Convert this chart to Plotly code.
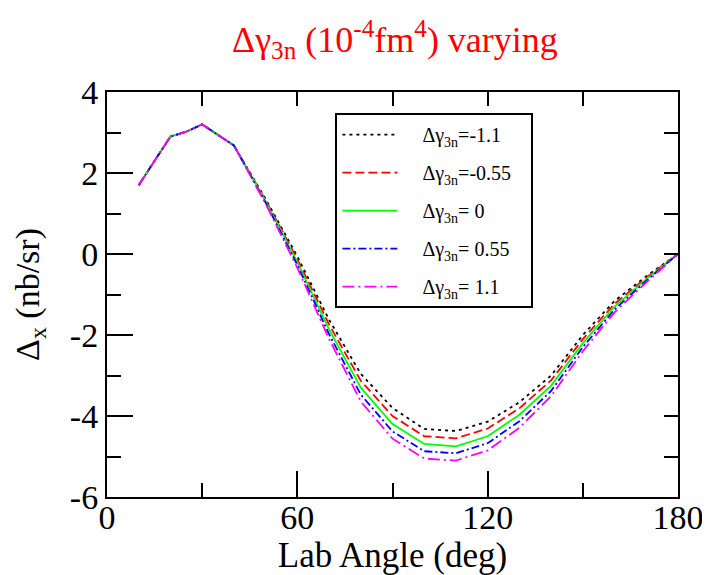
import plotly.graph_objects as go

angle = [10, 20, 25, 30, 40, 50, 60, 70, 80, 90, 100, 110, 120, 130, 140, 150, 160, 170, 180]

g_m110 = [1.70, 2.90, 3.02, 3.20, 2.68, 1.36, -0.06, -1.62, -2.96, -3.80, -4.32, -4.37, -4.14, -3.66, -3.00, -2.00, -1.16, -0.55, 0.0]
g_m055 = [1.70, 2.90, 3.02, 3.20, 2.68, 1.33, -0.13, -1.74, -3.13, -4.00, -4.50, -4.55, -4.31, -3.81, -3.12, -2.10, -1.23, -0.58, 0.0]
g_0 = [1.70, 2.90, 3.02, 3.20, 2.68, 1.30, -0.20, -1.86, -3.30, -4.20, -4.69, -4.75, -4.50, -3.97, -3.25, -2.20, -1.30, -0.62, 0.0]
g_p055 = [1.70, 2.90, 3.02, 3.20, 2.68, 1.27, -0.27, -1.98, -3.47, -4.38, -4.87, -4.92, -4.67, -4.13, -3.38, -2.30, -1.37, -0.66, 0.0]
g_p110 = [1.70, 2.90, 3.02, 3.20, 2.68, 1.24, -0.34, -2.10, -3.64, -4.56, -5.05, -5.10, -4.85, -4.29, -3.51, -2.40, -1.44, -0.70, 0.0]

names = ["Δγ<sub>3n</sub>=-1.1", "Δγ<sub>3n</sub>=-0.55", "Δγ<sub>3n</sub>= 0",
         "Δγ<sub>3n</sub>= 0.55", "Δγ<sub>3n</sub>= 1.1"]
series = [g_m110, g_m055, g_0, g_p055, g_p110]
colors = ["#000000", "#ff0000", "#00ff00", "#0000ff", "#ff00ff"]
dashes = ["3px,4px", "9px,4px", "solid", "8px,3px,2px,3px", "12px,4px,2px,4px"]

x_ticks = [0, 60, 120, 180]
x_ticktext = ["0", "60", "120", "180"]
y_ticks = [-6, -4, -2, 0, 2, 4]
y_ticktext = ["-6", "-4", "-2", "0", "2", "4"]

NB = "\u00a0"
fig = go.Figure()
for i, (nm, ys, c, d) in enumerate(zip(names, series, colors, dashes)):
    fig.add_trace(go.Scatter(x=angle, y=ys, mode="lines",
                             name=NB * 4 + nm + NB * 3,
                             legendgroup="g%d" % i,
                             line=dict(color=c, width=1.8, dash=d)))

# dummy trace for mirror axes (top / right)
fig.add_trace(go.Scatter(x=[None], y=[None], xaxis="x2", yaxis="y2",
                         showlegend=False, hoverinfo="skip"))

font = "Liberation Serif"
fig.update_layout(
    width=710, height=575,
    margin=dict(l=99, r=40, t=84, b=86),
    plot_bgcolor="white", paper_bgcolor="white",
    font=dict(family=font, color="black"),
    title=dict(text="Δγ<sub>3n</sub> (10<sup>-4</sup>fm<sup>4</sup>) varying",
               font=dict(family=font, size=36, color="red"),
               x=0.545, xanchor="center", y=0.946, yanchor="middle"),
    xaxis=dict(range=[0, 180], tickvals=x_ticks, ticktext=x_ticktext, ticks="inside",
               ticklen=26, tickwidth=1.5, tickcolor="black",
               minor=dict(tickvals=[30, 90, 150], ticks="inside", ticklen=14,
                          tickwidth=1.5, tickcolor="black"),
               showline=True, linecolor="black", linewidth=2,
               showgrid=False, zeroline=False,
               tickfont=dict(family=font, size=34), ticklabelstandoff=-11,
               title=dict(text="Lab Angle (deg)", font=dict(family=font, size=35), standoff=0)),
    yaxis=dict(range=[-6, 4], tickvals=y_ticks, ticktext=y_ticktext, ticks="inside",
               ticklen=26, tickwidth=1.5, tickcolor="black",
               minor=dict(tickvals=[-5, -3, -1, 1, 3], ticks="inside", ticklen=14,
                          tickwidth=1.5, tickcolor="black"),
               showline=True, linecolor="black", linewidth=2,
               showgrid=False, zeroline=False,
               tickfont=dict(family=font, size=34),
               title=dict(text="Δ<sub>x</sub> (nb/sr)", font=dict(family=font, size=34), standoff=20)),
    xaxis2=dict(range=[0, 180], overlaying="x", side="top", anchor="y",
                tickvals=[0, 30, 60, 90, 120, 150, 180], ticks="inside", ticklen=14,
                tickwidth=1.5, tickcolor="black", showticklabels=False,
                showline=True, linecolor="black", linewidth=2,
                showgrid=False, zeroline=False),
    yaxis2=dict(range=[-6, 4], overlaying="y", side="right", anchor="x",
                tickvals=[-6, -5, -4, -3, -2, -1, 0, 1, 2, 3, 4], ticks="inside",
                ticklen=14, tickwidth=1.5, tickcolor="black", showticklabels=False,
                showline=True, linecolor="black", linewidth=2,
                showgrid=False, zeroline=False),
    legend=dict(x=0.40, y=0.948, xanchor="left", yanchor="top",
                bordercolor="black", borderwidth=2, bgcolor="white",
                font=dict(family=font, size=20), tracegroupgap=9,
                itemwidth=55),
    showlegend=True,
)

fig.write_html("out.html")
